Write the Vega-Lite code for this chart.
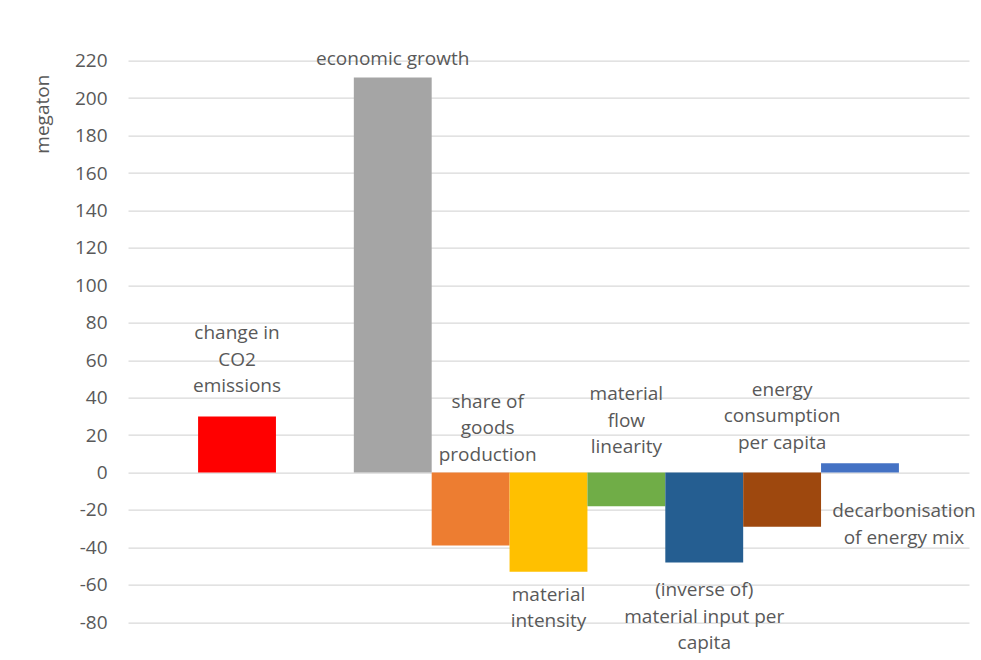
{
  "$schema": "https://vega.github.io/schema/vega-lite/v6.json",
  "width": 841,
  "height": 561.6,
  "autosize": {"type": "none"},
  "padding": {"left": 128, "top": 60.7, "right": 12, "bottom": 37.7},
  "background": "white",
  "config": {
    "view": {"stroke": null},
    "font": "Open Sans",
    "text": {"font": "Open Sans", "fontSize": 19, "color": "#595959", "lineHeight": 26.5, "lineBreak": "\n", "align": "center", "baseline": "middle"},
    "axisY": {
      "tickCount": 15,
      "domain": false,
      "ticks": false,
      "labelPadding": 21,
      "labelFont": "Open Sans",
      "labelFontSize": 19,
      "labelColor": "#595959",
      "labelExpr": "datum.value < 0 ? '-' + abs(datum.value) : '' + datum.value",
      "gridColor": "#d9d9d9",
      "gridWidth": 1.3,
      "titleFont": "Open Sans",
      "titleFontSize": 19,
      "titleFontWeight": "normal",
      "titleColor": "#595959",
      "titleAngle": -90,
      "titleX": -86,
      "titleY": 53,
      "titleAlign": "center",
      "titleBaseline": "middle"
    }
  },
  "data": {
    "values": [
      {"factor": "change in CO2 emissions", "megaton": 30, "label": "change in\nCO2\nemissions", "label_megaton": 74.5, "shift": "none"},
      {"factor": "economic growth", "megaton": 211, "label": "economic growth", "label_megaton": 221, "shift": "none"},
      {"factor": "share of goods production", "megaton": -39, "label": "share of\ngoods\nproduction", "label_megaton": 37.7, "shift": "small"},
      {"factor": "material intensity", "megaton": -53, "label": "material\nintensity", "label_megaton": -65.4, "shift": "none"},
      {"factor": "material flow linearity", "megaton": -18, "label": "material\nflow\nlinearity", "label_megaton": 41.9, "shift": "none"},
      {"factor": "(inverse of) material input per capita", "megaton": -48, "label": "(inverse of)\nmaterial input per\ncapita", "label_megaton": -62.8, "shift": "none"},
      {"factor": "energy consumption per capita", "megaton": -29, "label": "energy\nconsumption\nper capita", "label_megaton": 44.1, "shift": "none"},
      {"factor": "decarbonisation of energy mix", "megaton": 5, "label": "decarbonisation\nof energy mix", "label_megaton": -20.6, "shift": "large"}
    ]
  },
  "encoding": {
    "x": {
      "field": "factor",
      "type": "nominal",
      "sort": null,
      "scale": {
        "domain": ["change in CO2 emissions", "(gap)", "economic growth", "share of goods production", "material intensity", "material flow linearity", "(inverse of) material input per capita", "energy consumption per capita", "decarbonisation of energy mix"],
        "paddingInner": 0,
        "paddingOuter": 0.9
      },
      "axis": null
    }
  },
  "layer": [
    {
      "mark": {"type": "bar"},
      "encoding": {
        "y": {
          "field": "megaton",
          "type": "quantitative",
          "scale": {"domain": [-80, 220], "nice": false, "zero": true},
          "axis": {"title": "megaton"}
        },
        "color": {
          "field": "factor",
          "type": "nominal",
          "scale": {
            "domain": ["change in CO2 emissions", "economic growth", "share of goods production", "material intensity", "material flow linearity", "(inverse of) material input per capita", "energy consumption per capita", "decarbonisation of energy mix"],
            "range": ["#FF0000", "#A5A5A5", "#ED7D31", "#FFC000", "#70AD47", "#255E91", "#9E480E", "#4472C4"]
          },
          "legend": null
        }
      }
    },
    {
      "transform": [{"filter": "datum.shift == 'none'"}],
      "mark": {"type": "text"},
      "encoding": {
        "y": {"field": "label_megaton", "type": "quantitative", "axis": {"title": "megaton"}},
        "text": {"field": "label"}
      }
    },
    {
      "transform": [{"filter": "datum.shift == 'small'"}],
      "mark": {"type": "text", "dx": 17},
      "encoding": {
        "y": {"field": "label_megaton", "type": "quantitative", "axis": {"title": "megaton"}},
        "text": {"field": "label"}
      }
    },
    {
      "transform": [{"filter": "datum.shift == 'large'"}],
      "mark": {"type": "text", "dx": 44},
      "encoding": {
        "y": {"field": "label_megaton", "type": "quantitative", "axis": {"title": "megaton"}},
        "text": {"field": "label"}
      }
    }
  ]
}
